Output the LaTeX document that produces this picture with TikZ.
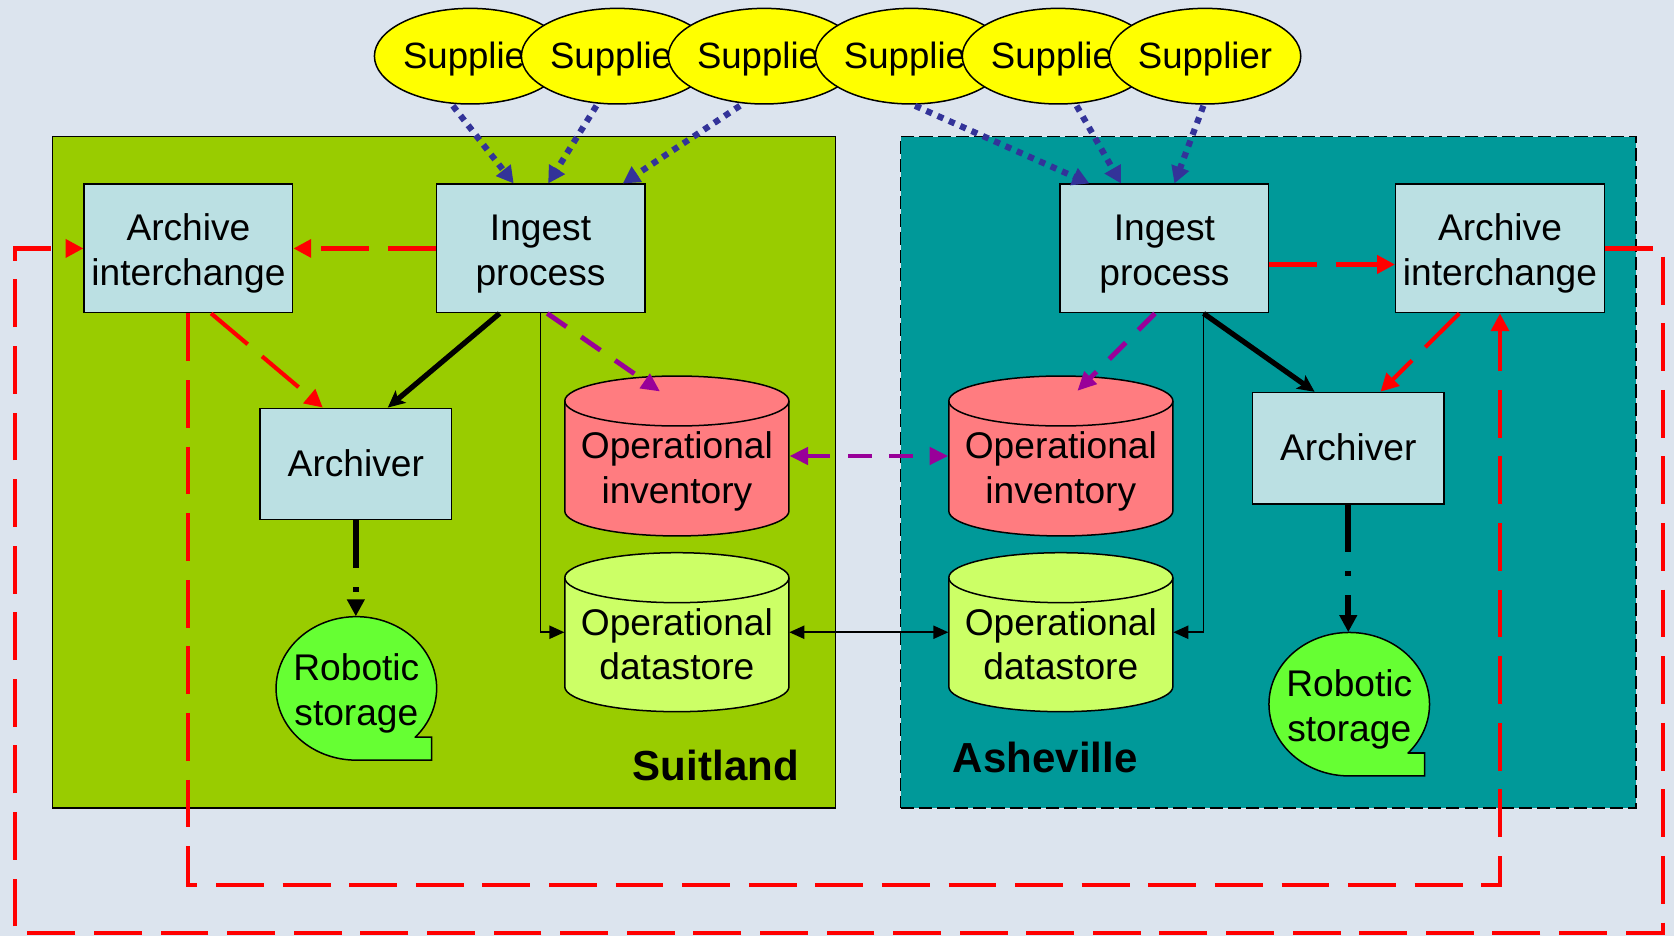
\documentclass[tikz,border=0pt]{standalone}
\usepackage{fontspec}
\setmainfont{Liberation Sans}
\usetikzlibrary{arrows.meta,shapes.geometric,calc}
\definecolor{bgc}{HTML}{DCE4EE}
\definecolor{suitc}{HTML}{99CC00}
\definecolor{ashc}{HTML}{009999}
\definecolor{boxc}{HTML}{BBE0E3}
\definecolor{invc}{HTML}{FF7C80}
\definecolor{dsc}{HTML}{CCFF66}
\definecolor{robc}{HTML}{66FF33}
\definecolor{suppc}{HTML}{FFFF00}
\definecolor{bluec}{HTML}{333399}
\definecolor{purpc}{HTML}{990099}
\definecolor{redc}{HTML}{FF0000}
\newcommand\drawcyl[5]{%
  \filldraw[fill=#5,line width=0.8pt] (#1,#3+23.4) -- (#1,#4-23.4)
    arc[start angle=180,end angle=0,x radius={(#2-#1)/2},y radius=23.4]
    -- (#2,#3+23.4)
    arc[start angle=0,end angle=-180,x radius={(#2-#1)/2},y radius=23.4] -- cycle;
  \draw[line width=0.8pt] (#1,#3+23.4) arc[start angle=180,end angle=0,x radius={(#2-#1)/2},y radius=23.4];}
\newcommand\drawrob[2]{%
  \filldraw[fill=robc,line width=0.8pt] (#1+55.2,#2+45.7) -- (#1+70.6,#2+45.7) -- (#1+70.6,#2+67.2) -- (#1,#2+67.2)
    arc[start angle=90,end angle=402.8,x radius=75.2,y radius=67.2] -- cycle;}
\begin{document}
\begin{tikzpicture}[x=0.02cm,y=-0.02cm,
  font=\fontsize{19.8}{23.8}\selectfont,
  oneline/.style={text height=17.6pt,text depth=4.1pt},
  twoline/.style={text height=43.6pt,text depth=4.2pt},
  region/.style={draw,line width=0.8pt,minimum height=12.58cm,inner sep=0pt},
  box/.style={draw,line width=0.7pt,fill=boxc,minimum width=3.91cm,minimum height=2.41cm,align=center,inner sep=0pt,twoline},
  archbox/.style={draw,line width=0.7pt,fill=boxc,minimum width=3.59cm,minimum height=2.09cm,inner sep=0pt,oneline},
  supp/.style={ellipse,draw,line width=0.8pt,fill=suppc,minimum width=3.588cm,minimum height=1.792cm,inner sep=0pt,oneline,font=\fontsize{19.5}{23.8}\selectfont},
  store/.style={draw=none,minimum width=4.2cm,minimum height=2.99cm,inner sep=0pt},
  lbl/.style={align=center,inner sep=0pt,twoline},
  rob/.style={ellipse,draw=none,minimum width=3.008cm,minimum height=2.688cm,inner sep=0pt,align=center,twoline},
  site/.style={font=\fontsize{22.4}{26}\selectfont\bfseries,anchor=base,inner sep=0pt},
  reddash/.style={draw=redc,line width=2.2pt,dash pattern=on 25.5pt off 10pt,-{Triangle[length=9.5pt,width=9.5pt]}},
  redloop/.style={reddash},
  purp/.style={draw=purpc,line width=2.6pt,dash pattern=on 12.5pt off 9.5pt,-{Triangle[length=10pt,width=9pt]}},
  blu/.style={draw=bluec,line width=3.3pt,dash pattern=on 3.3pt off 3.3pt,-{Triangle[length=9pt,width=9.5pt]}},
  blackthick/.style={draw=black,line width=2.8pt,-{Stealth[length=9pt,width=8.5pt,inset=2pt]}},
  thinarrow/.style={draw=black,line width=0.9pt,-{Triangle[length=8pt,width=7pt]}},
  dashdot/.style={draw=black,line width=3pt,dash pattern=on 25.5pt off 10pt on 2.8pt off 10pt,-{Triangle[length=9pt,width=9pt]}}
]
\useasboundingbox (0,0) rectangle (1568,876.7);
\fill[bgc] (0,0) rectangle (1568,876.7);

% regions
\node[region,fill=suitc,minimum width=14.676cm] (suit) at (415.9,442.5) {};
\node[region,fill=ashc,minimum width=13.784cm,dash pattern=on 7pt off 2.7pt] (ash) at (1188,442.5) {};
\node[site] (suitlbl) at (670.5,730.7) {Suitland};
\node[site] (ashlbl) at (979,723.8) {Asheville};

% suppliers
\node[supp] (s1) at (440.4,52.6) {Supplier};
\node[supp] (s2) at (578.06,52.6) {Supplier};
\node[supp] (s3) at (715.72,52.6) {Supplier};
\node[supp] (s4) at (853.38,52.6) {Supplier};
\node[supp] (s5) at (991.04,52.6) {Supplier};
\node[supp] (s6) at (1128.7,52.6) {Supplier};

% boxes
\node[box] (aiL) at (176.5,232.7) {Archive\\interchange};
\node[box] (ipL) at (506.3,232.7) {Ingest\\process};
\node[archbox] (archL) at (333.3,434.6) {Archiver};
\node[box] (ipR) at (1090.7,232.7) {Ingest\\process};
\node[box] (aiR) at (1405,232.7) {Archive\\interchange};
\node[archbox] (archR) at (1262.9,419.8) {Archiver};

% cylinders
\drawcyl{529}{739}{352.2}{502}{invc}
\node[store] (oiL) at (634,427.1) {};
\node[lbl] (oiLt) at (634,437) {Operational\\inventory};
\drawcyl{529}{739}{517.7}{666.6}{dsc}
\node[store] (odL) at (634,592.2) {};
\node[lbl] (odLt) at (634,602) {Operational\\datastore};
\drawcyl{888.7}{1098.6}{352.2}{502}{invc}
\node[store] (oiR) at (993.65,427.1) {};
\node[lbl] (oiRt) at (993.65,437) {Operational\\inventory};
\drawcyl{888.7}{1098.6}{517.7}{666.6}{dsc}
\node[store] (odR) at (993.65,592.2) {};
\node[lbl] (odRt) at (993.65,602) {Operational\\datastore};

% robotic storage
\drawrob{333.8}{644.8}
\node[rob] (robL) at (333.8,644.8) {Robotic\\storage};
\drawrob{1263.8}{659.6}
\node[rob] (robR) at (1263.8,659.6) {Robotic\\storage};

% supplier arrows
\draw[blu] ($(s1.south)+(-16.2,1)$) -- ($(ipL.north west)+(73.2,0)$);
\draw[blu] ($(s2.south)+(-19.4,1)$) -- ($(ipL.north west)+(105.5,0)$);
\draw[blu] ($(s3.south)+(-22.6,1)$) -- ($(ipL.north west)+(175.4,0)$);
\draw[blu] ($(s4.south)+(3.7,1)$) -- ($(ipR.north west)+(28,0)$);
\draw[blu] ($(s5.south)+(17.4,1)$) -- ($(ipR.north west)+(57.7,0)$);
\draw[blu] ($(s6.south)+(-1.5,1)$) -- ($(ipR.north west)+(107.7,0)$);

% black connectors
\coordinate (ipRo) at ($(ipR.south west)+(135,0)$);
\draw[blackthick] ($(ipL.south west)+(60,0)$) -- ($(archL.north west)+(120.3,0)$);
\draw[blackthick] (ipRo) -- ($(archR.north west)+(58.8,0)$);
\draw[thinarrow] (ipL.south) |- (odL.west);
\draw[thinarrow] (ipRo) |- (odR.east);
\draw[thinarrow,{Triangle[length=8pt,width=7pt]}-{Triangle[length=8pt,width=7pt]}] (odL.east) -- (odR.west);
\draw[dashdot] (archL.south) -- (archL.south |- robL.north);
\draw[dashdot] (archR.south) -- (archR.south |- robR.north);

% purple
\draw[purp] ($(ipL.south west)+(104.6,0)$) -- ($(oiL.north)+(-15.7,14.7)$);
\draw[purp] ($(ipR.south west)+(89.5,0)$) -- ($(oiR.north)+(15.5,14.1)$);
\draw[purp,{Triangle[length=10pt,width=9pt]}-{Triangle[length=10pt,width=9pt]}] (oiL.east) -- (oiR.west);

% red
\draw[reddash] (ipL.west) -- (aiL.east);
\draw[reddash] ($(aiL.south west)+(119.6,0)$) -- ($(archL.north west)+(59.4,0)$);
\draw[reddash] ($(ipR.east)+(0,15)$) -- ($(aiR.west)+(0,15)$);
\draw[reddash] ($(aiR.south west)+(60.2,0)$) -- ($(archR.north west)+(120.5,0)$);
\coordinate (ilA) at (176.5,829);
\coordinate (ilB) at (1405,829);
\draw[redloop] (aiL.south) -- (ilA) -- (ilB) -- (aiR.south);
\coordinate (olA) at (1558,232.7);
\coordinate (olB) at (1558,873.6);
\coordinate (olC) at (14,873.6);
\coordinate (olD) at (14,232.7);
\draw[redloop] (aiR.east) -- (olA) -- (olB) -- (olC) -- (olD) -- (aiL.west);
\end{tikzpicture}
\end{document}
